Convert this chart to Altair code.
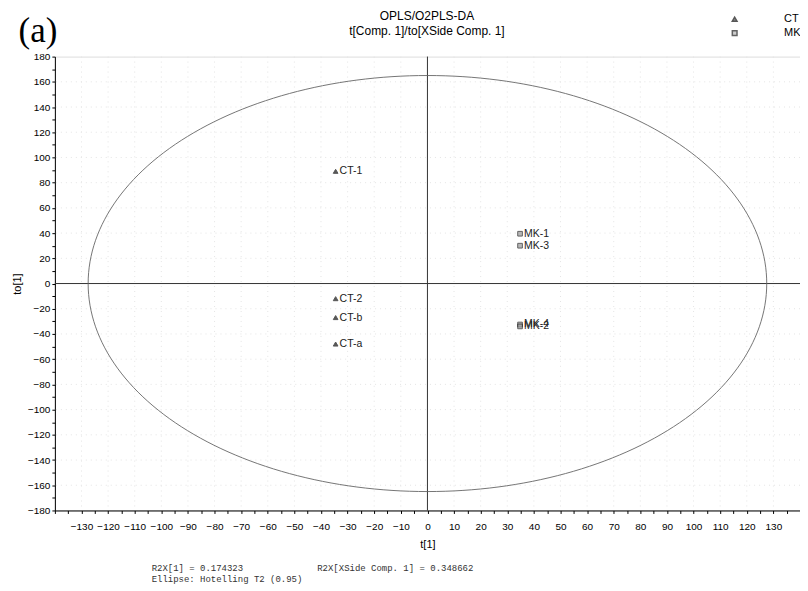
import altair as alt
import numpy as np
import pandas as pd

# ---- data ----
ct_labels = ["CT-1", "CT-2", "CT-b", "CT-a"]
ct_t = [-34.5, -34.5, -34.5, -34.5]
ct_to = [89.0, -12.0, -27.0, -48.0]

mk_labels = ["MK-1", "MK-3", "MK-4", "MK-2"]
mk_t = [34.8, 34.8, 34.8, 34.8]
mk_to = [39.5, 30.0, -32.5, -34.0]

ellipse_a = 127.5   # Hotelling T2 (0.95) semi-axis along t[1]
ellipse_b = 165.0   # semi-axis along to[1]

x_ticks = list(range(-140, 141, 5))
y_ticks = list(range(-180, 181, 10))

title_lines = ["OPLS/O2PLS-DA", "t[Comp. 1]/to[XSide Comp. 1]"]
footer = ["R2X[1] = 0.174323", "R2X[XSide Comp. 1] = 0.348662", "Ellipse: Hotelling T2 (0.95)"]

FONT = "Liberation Sans"

pts = pd.DataFrame({
    "label": ct_labels + mk_labels,
    "t": ct_t + mk_t,
    "to": ct_to + mk_to,
    "group": ["CT"] * len(ct_labels) + ["MK"] * len(mk_labels),
})

ang = np.linspace(0, 2 * np.pi, 241)
ell = pd.DataFrame({
    "t": ellipse_a * np.cos(ang),
    "to": ellipse_b * np.sin(ang),
    "i": np.arange(len(ang)),
})

xscale = alt.Scale(domain=[-140, 140], nice=False, zero=False)
yscale = alt.Scale(domain=[-180, 180], nice=False, zero=False)

xaxis = alt.Axis(
    values=x_ticks,
    labelExpr="(abs(datum.value) <= 130 && datum.value % 10 == 0) ? datum.label : ''",
    grid=False, tickSize=3, tickColor="black", domainColor="black",
    labelFont=FONT, labelFontSize=10, labelColor="black", labelPadding=8,
    labelOverlap=False, title="t[1]", titleFont=FONT, titleFontSize=11,
    titleFontWeight="normal", titleColor="black", titlePadding=7,
)
yaxis = alt.Axis(
    values=y_ticks,
    labelExpr="datum.value % 20 == 0 ? datum.label : ''",
    grid=False, tickSize=3, tickColor="black", domainColor="black",
    labelFont=FONT, labelFontSize=10, labelColor="black", labelPadding=2,
    labelOverlap=False, title="to[1]", titleFont=FONT, titleFontSize=11,
    titleFontWeight="normal", titleColor="black", titlePadding=5,
)


def X(field="t"):
    return alt.X(f"{field}:Q", scale=xscale, axis=xaxis)


def Y(field="to"):
    return alt.Y(f"{field}:Q", scale=yscale, axis=yaxis)


# faint dotted grid
gx = pd.DataFrame({"t": list(range(-130, 131, 10))})
gy = pd.DataFrame({"to": list(range(-160, 161, 20))})
grid_v = alt.Chart(gx).mark_rule(color="#e4e4e4", strokeDash=[1, 4], strokeWidth=1).encode(x=X())
grid_h = alt.Chart(gy).mark_rule(color="#e4e4e4", strokeDash=[1, 4], strokeWidth=1).encode(y=Y())

zero_v = alt.Chart(pd.DataFrame({"t": [0]})).mark_rule(color="#333333", strokeWidth=1).encode(x=X())
zero_h = alt.Chart(pd.DataFrame({"to": [0]})).mark_rule(color="#333333", strokeWidth=1).encode(y=Y())

ellipse = alt.Chart(ell).mark_line(color="#666666", strokeWidth=0.9).encode(
    x=X(), y=Y(), order="i:Q",
)

legend = alt.Legend(
    title=None, orient="none", legendX=676, legendY=-43,
    labelOffset=44, labelFont=FONT, labelFontSize=11, labelColor="black",
    symbolSize=22, rowPadding=2, padding=0,
)

points = alt.Chart(pts).mark_point(filled=True, size=22, strokeWidth=1).encode(
    x=X(), y=Y(),
    shape=alt.Shape("group:N", scale=alt.Scale(domain=["CT", "MK"], range=["triangle-up", "square"]), legend=legend),
    fill=alt.Fill("group:N", scale=alt.Scale(domain=["CT", "MK"], range=["#111111", "#9a9a9a"]), legend=legend),
    stroke=alt.Stroke("group:N", scale=alt.Scale(domain=["CT", "MK"], range=["#111111", "#222222"]), legend=legend),
)

labels = alt.Chart(pts).mark_text(align="left", baseline="middle", dx=4, font=FONT, fontSize=10.5, color="#222222").encode(
    x=X(), y=Y(), text="label:N",
)

panel = alt.Chart(pd.DataFrame({"s": ["(a)"]})).mark_text(
    font="Liberation Serif", fontSize=35, align="center", baseline="middle", color="black"
).encode(x=alt.value(-17), y=alt.value(-26), text="s:N")

title1 = alt.Chart(pd.DataFrame({"s": [title_lines[0]]})).mark_text(
    font=FONT, fontSize=12, align="center", baseline="middle", color="black"
).encode(x=alt.value(373), y=alt.value(-41), text="s:N")
title2 = alt.Chart(pd.DataFrame({"s": [title_lines[1]]})).mark_text(
    font=FONT, fontSize=12, align="center", baseline="middle", color="black"
).encode(x=alt.value(373), y=alt.value(-26), text="s:N")

foot1 = alt.Chart(pd.DataFrame({"s": [footer[0]]})).mark_text(
    font="Liberation Mono", fontSize=9, align="left", baseline="middle", color="#333333"
).encode(x=alt.value(97), y=alt.value(513), text="s:N")
foot2 = alt.Chart(pd.DataFrame({"s": [footer[1]]})).mark_text(
    font="Liberation Mono", fontSize=9, align="left", baseline="middle", color="#333333"
).encode(x=alt.value(263), y=alt.value(513), text="s:N")
foot3 = alt.Chart(pd.DataFrame({"s": [footer[2]]})).mark_text(
    font="Liberation Mono", fontSize=9, align="left", baseline="middle", color="#333333"
).encode(x=alt.value(97), y=alt.value(524), text="s:N")

chart = alt.layer(
    grid_v, grid_h, zero_v, zero_h, ellipse, points, labels, panel,
    title1, title2, foot1, foot2, foot3
).properties(
    width=747, height=455,
    autosize=alt.AutoSizeParams(type="none"),
    padding={"left": 47, "top": 48, "right": 0, "bottom": 75},
).configure_view(stroke="black", strokeWidth=1).configure(background="white")

chart.save("out.html", embed_options={"renderer": "svg", "actions": False})
